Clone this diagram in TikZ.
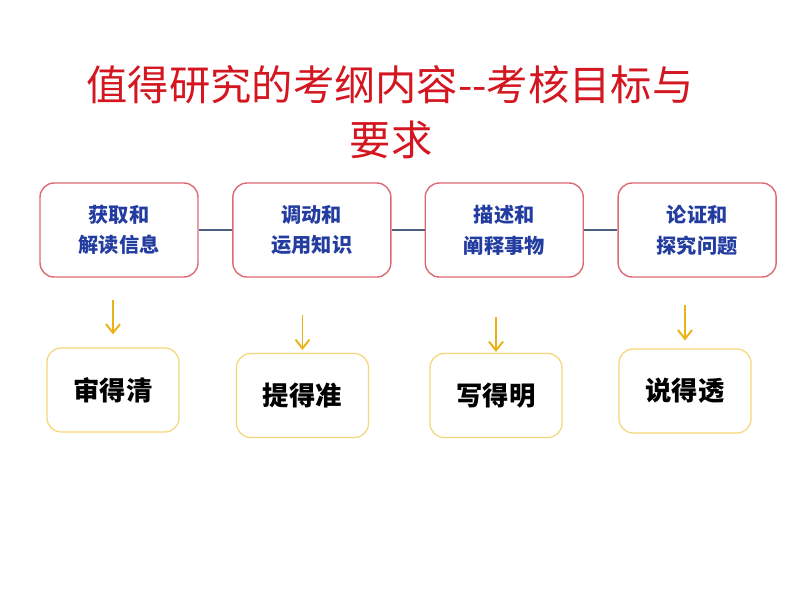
\documentclass[tikz,border=0pt]{standalone}
\usepackage{fontspec}
\setmainfont{Noto Sans CJK SC}
\usetikzlibrary{positioning, arrows.meta}
\definecolor{titlered}{RGB}{212,22,32}
\definecolor{skillblue}{RGB}{35,60,160}
\definecolor{skillframe}{RGB}{222,105,115}
\definecolor{aimframe}{RGB}{244,214,120}
\definecolor{pointergold}{RGB}{234,178,20}
\definecolor{linkgray}{RGB}{80,95,128}
\tikzset{
  skill/.style={
    draw=skillframe,
    line width=0.8pt,
    rectangle,
    rounded corners=8pt,
    minimum width=3.16cm,
    minimum height=1.88cm,
    align=center,
    text=skillblue,
    font=\bfseries\fontsize{11.5}{17.5}\selectfont
  },
  aim/.style={
    draw=aimframe,
    line width=0.7pt,
    rectangle,
    rounded corners=8pt,
    minimum width=2.64cm,
    minimum height=1.68cm,
    align=center,
    font=\bfseries\fontsize{15}{18}\selectfont
  },
  link/.style={
    draw=linkgray,
    line width=0.7pt
  },
  pointer/.style={
    draw=pointergold,
    line width=1.1pt,
    -{Straight Barb[length=5pt, width=8pt]}
  }
}

\begin{document}
\begin{tikzpicture}[x=0.02cm, y=-0.02cm]
    \useasboundingbox (0,0) rectangle (800,600);

    \node[text=titlered, font=\fontsize{23.5}{28}\selectfont] (title) at (390,85) {值得研究的考纲内容{-}{-}考核目标与};
    \node[text=titlered, font=\fontsize{23.5}{28}\selectfont] (title2) at (391,140) {要求};

    \node[skill] (obtain) at (119,230) {获取和\\解读信息};
    \node[skill, right=0.67cm of obtain] (apply) {调动和\\运用知识};
    \node[skill, right=0.66cm of apply] (describe) {描述和\\阐释事物};
    \node[skill, right=0.67cm of describe] (argue) {论证和\\探究问题};

    \draw[link] (obtain) -- (apply);
    \draw[link] (apply) -- (describe);
    \draw[link] (describe) -- (argue);

    \node[aim] (clear) at (113,390) {审得清};
    \node[aim] (precise) at (302.5,395.5) {提得准};
    \node[aim] (explicit) at (496,395.5) {写得明};
    \node[aim] (thorough) at (685,391) {说得透};

    \coordinate (from1) at (113,300);
    \coordinate (from2) at (302.5,315);
    \coordinate (from3) at (496,317);
    \coordinate (from4) at (685,305);

    \draw[pointer, shorten >=0.26cm] (from1) -- (clear.north);
    \draw[pointer, shorten >=0.06cm] (from2) -- (precise.north);
    \draw[pointer, shorten >=0.02cm] (from3) -- (explicit.north);
    \draw[pointer, shorten >=0.16cm] (from4) -- (thorough.north);
\end{tikzpicture}
\end{document}
